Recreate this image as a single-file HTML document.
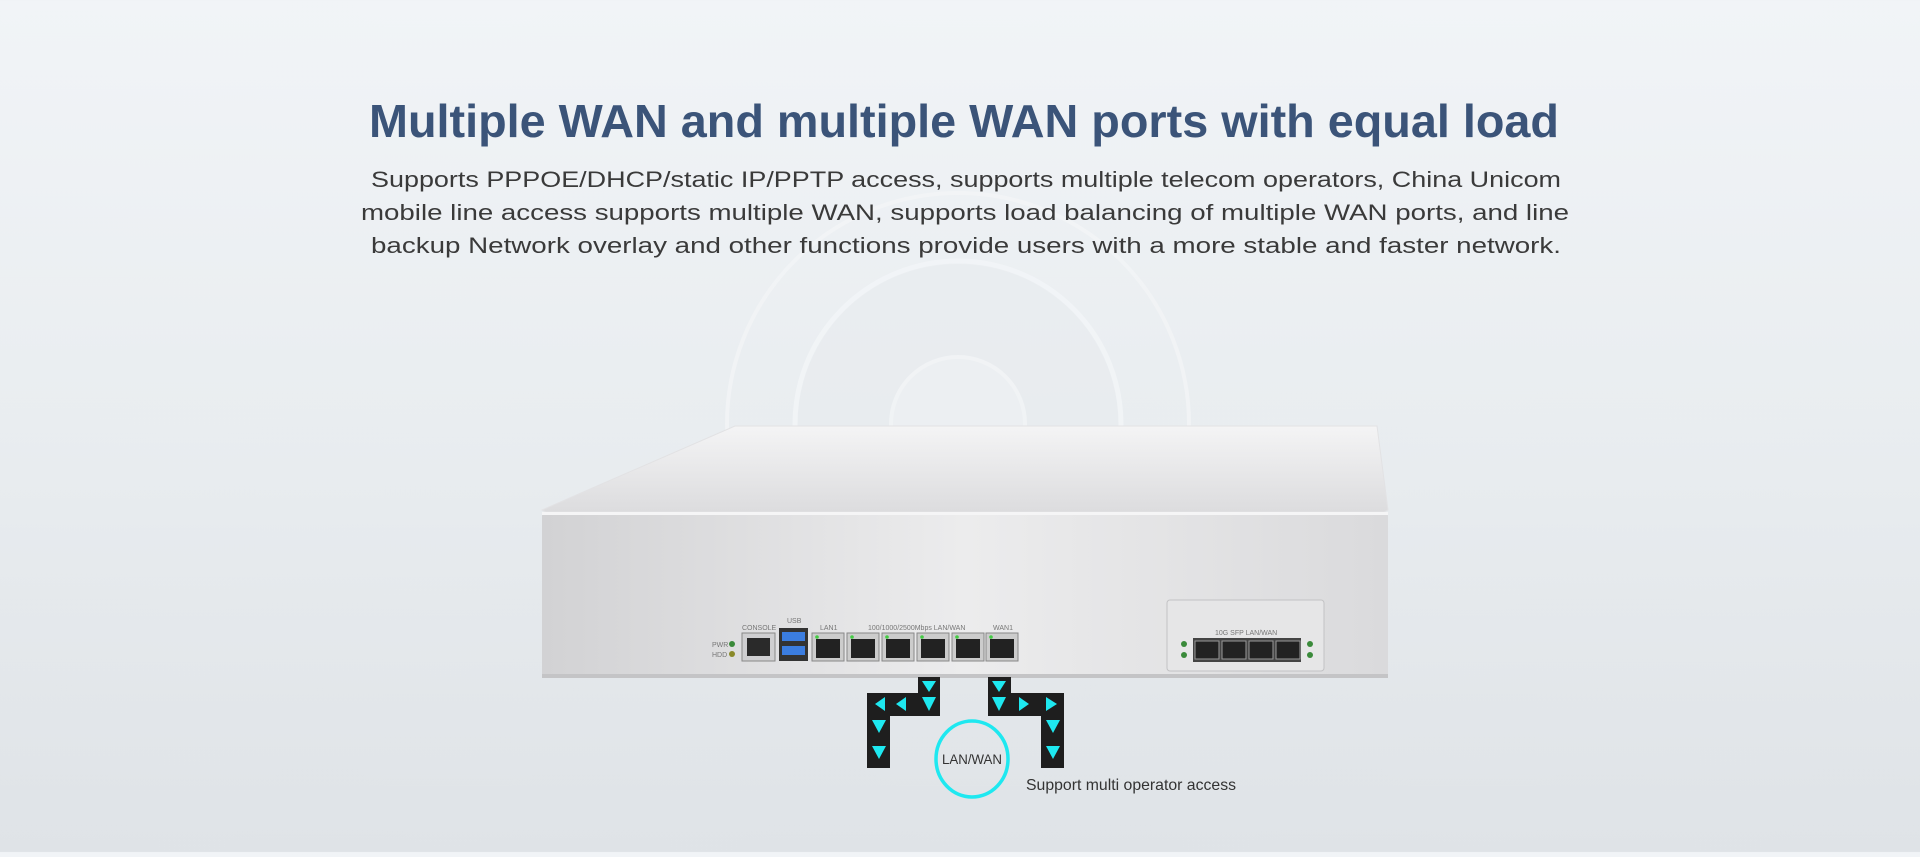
<!DOCTYPE html>
<html><head><meta charset="utf-8"><style>
html,body{margin:0;padding:0}
body{width:1920px;height:852px;overflow:hidden;background:linear-gradient(#f1f4f7,#e9edf0 50%,#dfe3e7);font-family:"Liberation Sans",sans-serif}
</style></head><body>
<svg width="1920" height="852" viewBox="0 0 1920 852" xmlns="http://www.w3.org/2000/svg">
<defs>
<linearGradient id="top" x1="0" y1="0" x2="0" y2="1"><stop offset="0" stop-color="#f4f4f5"/><stop offset="1" stop-color="#dcdcde"/></linearGradient>
<linearGradient id="front" x1="0" y1="0" x2="1" y2="0"><stop offset="0" stop-color="#d2d2d4"/><stop offset="0.5" stop-color="#ececed"/><stop offset="1" stop-color="#dadadc"/></linearGradient>
</defs>
<circle cx="958" cy="424" r="231" fill="none" stroke="#f3f5f7" stroke-width="4" opacity="0.7"/>
<circle cx="958" cy="424" r="163" fill="none" stroke="#f3f5f7" stroke-width="5" opacity="0.8"/>
<circle cx="958" cy="424" r="160" fill="#e8ebee" opacity="0.6"/>
<circle cx="958" cy="424" r="67" fill="#edf0f3" stroke="#f3f5f7" stroke-width="4" opacity="0.8"/>

<text x="964" y="137" text-anchor="middle" font-size="46" font-weight="600" fill="#3b5479" textLength="1190" lengthAdjust="spacingAndGlyphs">Multiple WAN and multiple WAN ports with equal load</text>
<g font-size="22" fill="#3a3a3a" text-anchor="middle">
<text x="966" y="187" textLength="1190" lengthAdjust="spacingAndGlyphs">Supports PPPOE/DHCP/static IP/PPTP access, supports multiple telecom operators, China Unicom</text>
<text x="965" y="220" textLength="1208" lengthAdjust="spacingAndGlyphs">mobile line access supports multiple WAN, supports load balancing of multiple WAN ports, and line</text>
<text x="966" y="253" textLength="1190" lengthAdjust="spacingAndGlyphs">backup Network overlay and other functions provide users with a more stable and faster network.</text>
</g>

<!-- device -->
<polygon points="735,426 1377,426 1388,510 1384,512 546,512 542,510" fill="url(#top)" stroke="#e2e2e4" stroke-width="1"/>
<rect x="542" y="512" width="846" height="166" rx="4" fill="url(#front)"/>
<rect x="542" y="512" width="846" height="3" fill="#f5f5f6"/>
<rect x="542" y="674" width="846" height="4" fill="#c4c4c6"/>

<g font-size="7" fill="#777">
<text x="712" y="647">PWR</text><text x="712" y="657">HDD</text>
<circle cx="732" cy="644" r="3" fill="#3a8a3a"/><circle cx="732" cy="654" r="3" fill="#8a8a2a"/>
<text x="742" y="630">CONSOLE</text><text x="787" y="623">USB</text><text x="820" y="630">LAN1</text>
<text x="868" y="630">100/1000/2500Mbps LAN/WAN</text><text x="993" y="630">WAN1</text>
</g>
<rect x="742" y="633" width="33" height="28" fill="#cfcfd1" stroke="#888"/>
<rect x="747" y="638" width="23" height="18" fill="#2a2a2a"/>
<rect x="779" y="628" width="29" height="33" fill="#333"/>
<rect x="782" y="632" width="23" height="9" fill="#3b7de0"/><rect x="782" y="646" width="23" height="9" fill="#3b7de0"/>
<g>
<rect x="812" y="633" width="32" height="28" fill="#ccc" stroke="#888"/><rect x="816" y="639" width="24" height="19" fill="#222"/><circle cx="817" cy="637" r="1.8" fill="#4c4"/>
<rect x="847" y="633" width="32" height="28" fill="#ccc" stroke="#888"/><rect x="851" y="639" width="24" height="19" fill="#222"/><circle cx="852" cy="637" r="1.8" fill="#4c4"/>
<rect x="882" y="633" width="32" height="28" fill="#ccc" stroke="#888"/><rect x="886" y="639" width="24" height="19" fill="#222"/><circle cx="887" cy="637" r="1.8" fill="#4c4"/>
<rect x="917" y="633" width="32" height="28" fill="#ccc" stroke="#888"/><rect x="921" y="639" width="24" height="19" fill="#222"/><circle cx="922" cy="637" r="1.8" fill="#4c4"/>
<rect x="952" y="633" width="32" height="28" fill="#ccc" stroke="#888"/><rect x="956" y="639" width="24" height="19" fill="#222"/><circle cx="957" cy="637" r="1.8" fill="#4c4"/>
<rect x="986" y="633" width="32" height="28" fill="#ccc" stroke="#888"/><rect x="990" y="639" width="24" height="19" fill="#222"/><circle cx="991" cy="637" r="1.8" fill="#4c4"/>
</g>
<rect x="1167" y="600" width="157" height="71" rx="3" fill="#e6e6e7" stroke="#c2c2c4"/>
<text x="1215" y="635" font-size="7" fill="#777">10G SFP LAN/WAN</text>
<rect x="1193" y="638" width="108" height="24" fill="#444"/>
<g fill="#222" stroke="#999" stroke-width="1">
<rect x="1195" y="641" width="24" height="18"/><rect x="1222" y="641" width="24" height="18"/><rect x="1249" y="641" width="24" height="18"/><rect x="1276" y="641" width="24" height="18"/>
</g>
<g fill="#3a8a3a"><circle cx="1184" cy="644" r="3"/><circle cx="1184" cy="655" r="3"/><circle cx="1310" cy="644" r="3"/><circle cx="1310" cy="655" r="3"/></g>

<!-- arrows -->
<g fill="#1e1e1e">
<rect x="918" y="677" width="22" height="39"/><rect x="867" y="693" width="73" height="23"/><rect x="867" y="693" width="23" height="75"/>
<rect x="988" y="677" width="23" height="39"/><rect x="988" y="693" width="76" height="23"/><rect x="1041" y="693" width="23" height="75"/>
</g>
<g fill="#1ee8f0">
<polygon points="922,681 936,681 929,692"/><polygon points="922,697 936,697 929,711"/>
<polygon points="885,697 885,711 875,704"/><polygon points="906,697 906,711 896,704"/>
<polygon points="872,720 886,720 879,733"/><polygon points="872,746 886,746 879,759"/>
<polygon points="992,681 1006,681 999,692"/><polygon points="992,697 1006,697 999,711"/>
<polygon points="1019,697 1019,711 1029,704"/><polygon points="1046,697 1046,711 1057,704"/>
<polygon points="1046,720 1060,720 1053,733"/><polygon points="1046,746 1060,746 1053,759"/>
</g>
<ellipse cx="972" cy="759" rx="36" ry="38" fill="none" stroke="#1ee8f0" stroke-width="3.5"/>
<text x="972" y="764" font-size="14" fill="#333" text-anchor="middle" textLength="60" lengthAdjust="spacingAndGlyphs">LAN/WAN</text>
<text x="1026" y="790" font-size="16" fill="#333" textLength="210" lengthAdjust="spacingAndGlyphs">Support multi operator access</text>
</svg>
</body></html>
